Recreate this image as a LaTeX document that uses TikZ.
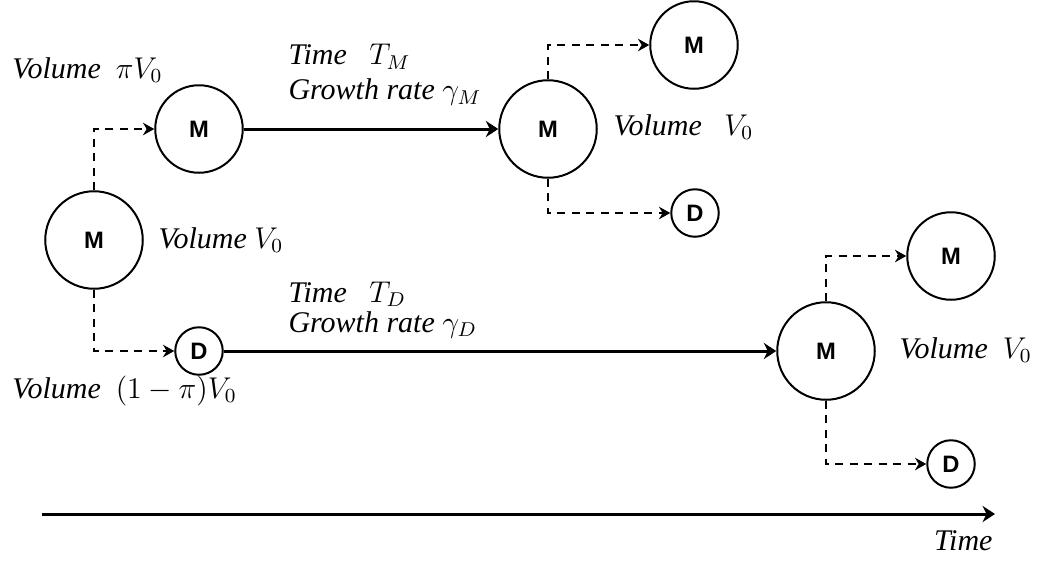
\documentclass[tikz,border=0pt]{standalone}
\usepackage{amsmath}
\usepackage{fontspec}
\setmainfont{Liberation Serif}
\newfontfamily\labelfont{Liberation Serif}
\newfontfamily\cellfont{Liberation Sans}
\usetikzlibrary{arrows.meta}

\tikzset{
  cellbig/.style={circle, draw, line width=0.8pt, minimum size=39pt, inner sep=0pt,
    font=\cellfont\bfseries\fontsize{9.5}{10}\selectfont},
  cellmid/.style={cellbig, minimum size=35pt},
  celldau/.style={cellbig, minimum size=19pt},
  vollabel/.style={font=\labelfont\itshape\fontsize{12}{14}\selectfont, inner sep=0pt},
  growline/.style={line width=1.2pt, -{Stealth[length=5pt,width=6.5pt]}},
  splitline/.style={line width=0.8pt, dash pattern=on 3.2pt off 2.6pt,
    -{Stealth[length=4.5pt,width=5pt]}},
}

\begin{document}
\begin{tikzpicture}[x=0.4pt, y=-0.4pt]
% pixel-like coordinates: x to the right, y downwards
\useasboundingbox (0,0) rectangle (1040,561);

% --- Cells ---
\node[cellbig] (m0) at (94,240) {M};
\node[cellmid] (m1) at (199,129) {M};
\node[celldau] (d1) at (199,351) {D};
\node[cellbig] (m2) at (548,129) {M};
\node[cellmid] (m3) at (694,45) {M};
\node[celldau] (d2) at (695,213) {D};
\node[cellbig] (m4) at (826,351) {M};
\node[cellmid] (m5) at (951,256) {M};
\node[celldau] (d3) at (951,464) {D};

% --- Division (dashed) ---
\draw[splitline] (m0.north) |- (m1.west);
\draw[splitline] (m0.south) |- (d1.west);
\draw[splitline] (m2.north) |- (m3.west);
\draw[splitline] (m2.south) |- (d2.west);
\draw[splitline] (m4.north) |- (m5.west);
\draw[splitline] (m4.south) |- (d3.west);

% --- Growth (solid) ---
\draw[growline] (m1) -- (m2);
\draw[growline] (d1) -- (m4);

% --- Volume labels ---
\node[vollabel, anchor=base west] (v1) at (12,78) {Volume\ \ $\pi V_0$};
\node[vollabel, anchor=base west] (v0) at (158,248) {Volume $V_0$};
\node[vollabel, anchor=base west] (vd) at (12,398) {Volume\ \ $(1-\pi)V_0$};
\node[vollabel, anchor=base west] (v2) at (613,135) {Volume\ \ \ $V_0$};
\node[vollabel, anchor=base west] (v4) at (899,358) {Volume\ \ $V_0$};

% --- Growth labels ---
\node[vollabel, anchor=west, align=left] (gm) at (288,75)
  {Time\ \ \ $T_M$\\ Growth rate $\gamma_M$};
\node[vollabel, anchor=west, align=left] (gd) at (288,310)
  {Time\ \ \ $T_D$\\[-2pt] Growth rate $\gamma_D$};

% --- Time axis ---
\coordinate (t0) at (42,514);
\coordinate (t1) at (995,514);
\draw[growline] (t0) -- (t1);
\node[vollabel, anchor=base east] (tl) at (993,550) {Time};
\end{tikzpicture}
\end{document}
